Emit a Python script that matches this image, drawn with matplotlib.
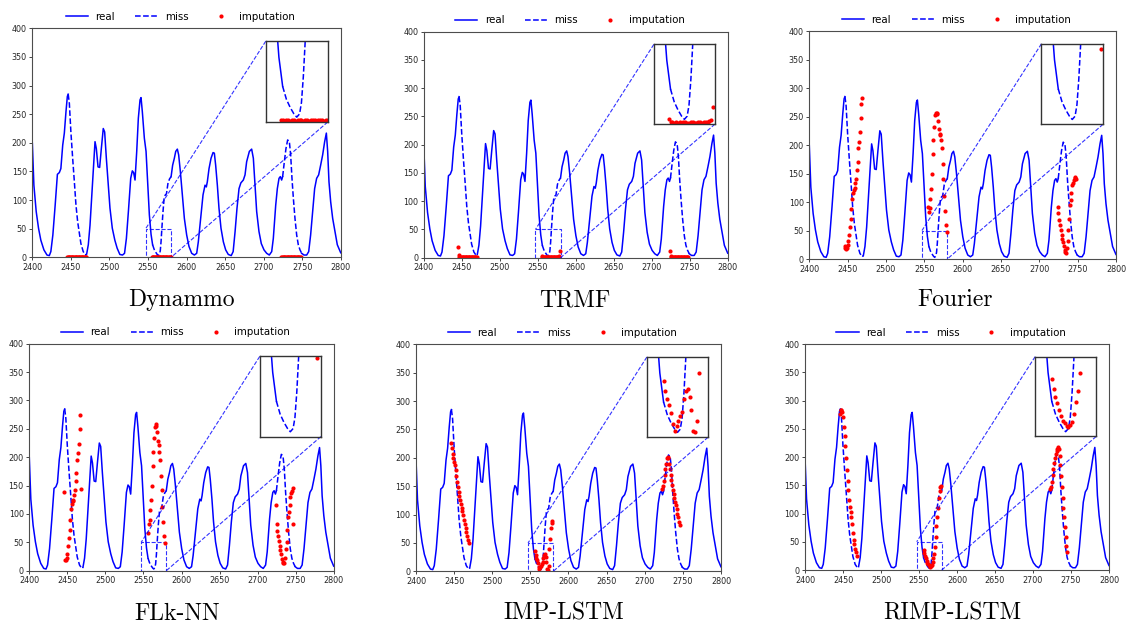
import numpy as np
import matplotlib
matplotlib.use('Agg')
import matplotlib.pyplot as plt
from mpl_toolkits.axes_grid1.inset_locator import mark_inset

# true series (time, value)
t_true = [2400, 2402, 2405, 2408, 2411, 2415, 2419, 2422, 2424, 2426.6, 2429.6, 2432.5,
          2435, 2437, 2439.4, 2441.5, 2443.6, 2445.4, 2446.5,
          2448, 2450, 2452.3, 2454.5, 2456.6, 2458.8, 2461, 2463, 2466, 2469, 2470.5,
          2472.6, 2474.8, 2477.4, 2480, 2481.3, 2483, 2485.2, 2487.3, 2489.5, 2492,
          2493.8, 2496, 2498.6, 2500.7, 2503.7, 2507, 2510, 2513.5, 2517, 2519.6, 2522,
          2524.6, 2527.6, 2529.7, 2531.4, 2533.2, 2535.4, 2537.5, 2539.7, 2541, 2542.7,
          2545.3, 2547.5, 2549.6, 2551.8, 2554, 2556,
          2558, 2560, 2562, 2563.5, 2565, 2566, 2567, 2568, 2569.5, 2571, 2572.5, 2574,
          2576, 2578, 2580,
          2582, 2584.2, 2586, 2588.1, 2589.8, 2592, 2594.6, 2597.2, 2600.2, 2603.2,
          2606.7, 2610.2, 2613.2, 2615.3, 2618.4, 2621.4, 2624, 2625.7, 2627, 2629.2,
          2631.8, 2634.4, 2636.1, 2637.8, 2640, 2642.1, 2644.7, 2647.8, 2650.8, 2654.2,
          2658, 2660.5, 2663, 2665.5, 2668.1, 2670.5, 2673.7, 2675.9, 2678, 2681.5,
          2684.5, 2686.7, 2688.9, 2691, 2694, 2697, 2700.5, 2704, 2707.4, 2710.5,
          2712.6, 2715.7, 2717.8, 2720, 2721.7, 2723.4, 2724.7,
          2726.9, 2729, 2731.2, 2733.4, 2735.1, 2736.8, 2738.6, 2740.7, 2742.9, 2745,
          2747.2, 2749.4,
          2752.4, 2755.9, 2758.5, 2761, 2763.6, 2766.2, 2768.8, 2771.4, 2774, 2776.6,
          2779.2, 2781.4, 2783.1, 2784.8, 2787, 2789.6, 2792.6, 2795.6, 2800]
y_true = [199, 126, 80, 51, 30, 13, 4, 3, 10, 39, 91, 145,
          148, 155, 196, 217, 254, 281, 285,
          269, 219, 173, 132, 91, 62, 42, 24, 10, 4, 6,
          22, 56, 115, 173, 202, 190, 158, 157, 190, 225,
          219, 173, 126, 86, 51, 30, 16, 5, 4, 7, 33,
          80, 138, 151, 148, 135, 185, 243, 275, 279, 254,
          208, 185, 132, 74, 40, 22,
          14, 9, 5, 3, 5, 12, 28, 50, 80, 104, 109, 111,
          130, 137, 141,
          161, 173, 185, 189, 179, 150, 109, 68, 39, 19,
          7, 4, 7, 27, 68, 109, 126, 123, 132, 155,
          173, 183, 182, 161, 126, 86, 51, 27, 13, 5,
          3, 10, 45, 86, 120, 130, 135, 144, 167, 185,
          189, 173, 126, 80, 45, 24, 13, 7, 4, 10,
          33, 91, 120, 138, 141, 135, 141,
          167, 190, 205, 202, 179, 138, 103, 68, 39, 22,
          13, 7,
          4, 4, 10, 39, 80, 120, 138, 144, 161, 179,
          202, 217, 185, 132, 97, 68, 45, 22, 8]

# missing spans (start, end)
miss_spans = [(2446.5, 2470.5), (2556, 2580), (2724.7, 2749.4)]

# imputed values per gap: (first time step, values at unit steps)
dynammo_imp = [
    (2445, [1.2, 0.8, 1.0, 1.4, 0.9, 1.1, 1.3, 0.8, 1.0, 1.2, 0.9, 1.1, 1.0,
            1.3, 0.9, 1.0, 1.2, 0.8, 1.1, 1.0, 1.3, 0.9, 1.1, 1.0, 1.2, 0.9]),
    (2555, [1.0, 1.2, 0.9, 1.1, 1.3, 0.8, 1.0, 1.2, 0.9, 1.1, 1.0, 1.3, 0.9,
            1.0, 1.2, 0.8, 1.1, 1.0, 1.3, 0.9, 1.1, 1.0, 1.2, 0.9, 1.0, 1.1]),
    (2723, [1.1, 0.9, 1.2, 1.0, 0.8, 1.3, 1.0, 1.1, 0.9, 1.2, 1.0, 0.8, 1.1,
            1.3, 0.9, 1.0, 1.2, 1.1, 0.9, 1.0, 1.3, 0.8, 1.1, 1.0, 1.2, 0.9]),
]
trmf_imp = [
    (2445, [19, 4, 2, 1.5, 1.2, 1.0, 1.3, 1.1, 0.9, 1.2, 1.0, 1.1, 1.3,
            0.9, 1.0, 1.2, 1.1, 0.9, 1.0, 1.2, 1.1, 1.0, 1.3, 0.9, 1.1, 1.2]),
    (2555, [3, 1.5, 1.2, 1.0, 1.1, 0.9, 1.2, 1.0, 1.3, 1.1, 0.9, 1.0, 1.2,
            1.1, 1.0, 0.9, 1.2, 1.3, 1.0, 1.1, 1.4, 1.6, 2.0, 2.5, 11]),
    (2724, [11, 3, 2, 1.5, 1.2, 1.0, 1.1, 0.9, 1.2, 1.0, 1.3, 1.1, 0.9,
            1.0, 1.2, 1.1, 0.9, 1.0, 1.2, 1.1, 1.0, 1.3, 1.5, 1.8, 2.0]),
]
fourier_imp = [
    (2446, [23, 19, 17, 20, 25, 32, 42, 57, 71, 88, 106, 116, 121, 124, 133,
            141, 157, 171, 194, 205, 222, 248, 272, 282]),
    (2555, [92, 83, 89, 106, 122, 149, 184, 208, 232, 252, 257, 255, 256, 243,
            228, 220, 217, 208, 194, 166, 141, 110, 84, 60, 47]),
    (2724, [92, 80, 68, 60, 51, 42, 35, 29, 22, 16, 12, 10, 20, 32, 51, 70, 95,
            103, 115, 129, 134, 139, 143, 144, 140]),
]
flknn_imp = [
    (2446, [139, 18, 19, 23, 29, 43, 57, 72, 90, 108, 118, 122, 125, 133, 143,
            158, 173, 195, 207, 223, 249, 274, 144]),
    (2556, [66, 83, 89, 107, 124, 150, 184, 209, 233, 253, 258, 255, 244, 229,
            222, 209, 195, 167, 142, 112, 85, 62, 49]),
    (2724, [116, 82, 70, 62, 53, 43, 36, 29, 20, 16, 14, 13, 22, 38, 51, 72, 95,
            103, 116, 129, 137, 141, 145, 83]),
]
imp_lstm_imp = [
    (2446, [227, 217, 207, 200, 193, 187, 178, 168, 158, 148, 140, 133, 126, 119,
            112, 106, 99, 91, 84, 77, 70, 63, 56, 50]),
    (2556, [35, 29, 24, 20, 15, 8, 4, 7, 10, 13, 16, 24, 29, 30, 25, 17, 4, 3,
            10, 40, 57, 77, 86, 89]),
    (2723, [145, 151, 160, 170, 180, 189, 199, 201, 199, 190, 180, 170, 161, 152,
            144, 137, 130, 123, 116, 109, 101, 95, 87, 82]),
]
rimp_lstm_imp = [
    (2446, [276, 283, 283, 280, 270, 253, 237, 220, 199, 177, 158, 142, 124, 112,
            103, 93, 81, 66, 53, 46, 38, 31, 25]),
    (2556, [36, 29.5, 24.7, 20.7, 16.5, 13, 10, 8.2, 6.5, 5.9, 7.2, 9.3, 14.3,
            21.5, 28.7, 40, 59, 78, 94, 110, 127, 139, 147, 149]),
    (2723, [143, 147.5, 156, 168, 179, 189, 198, 205, 211, 215, 217, 215, 201,
            186, 167, 147, 128, 110, 94, 77, 59, 43, 32]),
]

methods = ['Dynammo', 'TRMF', 'Fourier', 'FLk-NN', 'IMP-LSTM', 'RIMP-LSTM']
imputations = [dynammo_imp, trmf_imp, fourier_imp, flknn_imp, imp_lstm_imp, rimp_lstm_imp]

# axes boxes in figure fraction and label centres (x, y)
axes_boxes = [[0.0287, 0.5896, 0.2736, 0.3652], [0.3760, 0.5890, 0.2697, 0.3604],
              [0.7181, 0.5869, 0.2721, 0.3636], [0.0260, 0.0898, 0.2701, 0.3620],
              [0.3691, 0.0888, 0.2706, 0.3620], [0.7143, 0.0909, 0.2697, 0.3604]]
label_pos = [(0.161, 0.5215), (0.510, 0.5215), (0.847, 0.5215),
             (0.157, 0.0215), (0.500, 0.0215), (0.845, 0.0215)]


def draw_series(ax, imp, with_labels=True):
    t = np.array(t_true, dtype=float)
    y = np.array(y_true, dtype=float)
    solid = y.copy()
    for a, b in miss_spans:
        solid[(t > a) & (t < b)] = np.nan
    ax.plot(t, solid, color='b', lw=1.1, label='real' if with_labels else None)
    for i, (a, b) in enumerate(miss_spans):
        m = (t >= a) & (t <= b)
        ax.plot(t[m], y[m], color='b', ls='--', lw=1.1,
                label='miss' if (with_labels and i == 0) else None)
    ti, vi = [], []
    for start, vals in imp:
        ti.extend(start + np.arange(len(vals)))
        vi.extend(vals)
    ax.plot(ti, vi, 'o', color='r', ms=3, mew=0,
            label='imputation' if with_labels else None)


fig = plt.figure(figsize=(11.27, 6.27), dpi=100)

for k, name in enumerate(methods):
    ax = fig.add_axes(axes_boxes[k])
    draw_series(ax, imputations[k])
    ax.set_xlim(2400, 2800)
    ax.set_ylim(0, 400)
    ax.set_xticks(np.arange(2400, 2801, 50))
    ax.set_yticks(np.arange(0, 401, 50))
    ax.tick_params(labelsize=5.8, length=2.5, width=0.6, colors='0.15', pad=1.5)
    for s in ax.spines.values():
        s.set_linewidth(0.8)
        s.set_color('0.3')
    ax.legend(loc='lower center', bbox_to_anchor=(0.48, 1.01), ncol=3, frameon=False,
              fontsize=7.4, handlelength=2.2, handletextpad=0.7, columnspacing=2.0,
              numpoints=1, borderaxespad=0)

    # zoomed view of the second gap
    axins = ax.inset_axes([0.757, 0.591, 0.201, 0.353])
    draw_series(axins, imputations[k], with_labels=False)
    axins.set_xlim(2547, 2580)
    axins.set_ylim(0, 50)
    axins.set_xticks([])
    axins.set_yticks([])
    for s in axins.spines.values():
        s.set_linewidth(1.0)
        s.set_color('0.2')
    mark_inset(ax, axins, loc1=2, loc2=4, fc='none', ec='b', ls='--', lw=0.8, alpha=0.8)

    fig.text(label_pos[k][0], label_pos[k][1], name, family='cmr10', fontsize=17,
             ha='center', va='center')

fig.savefig('out.png', dpi=100)
